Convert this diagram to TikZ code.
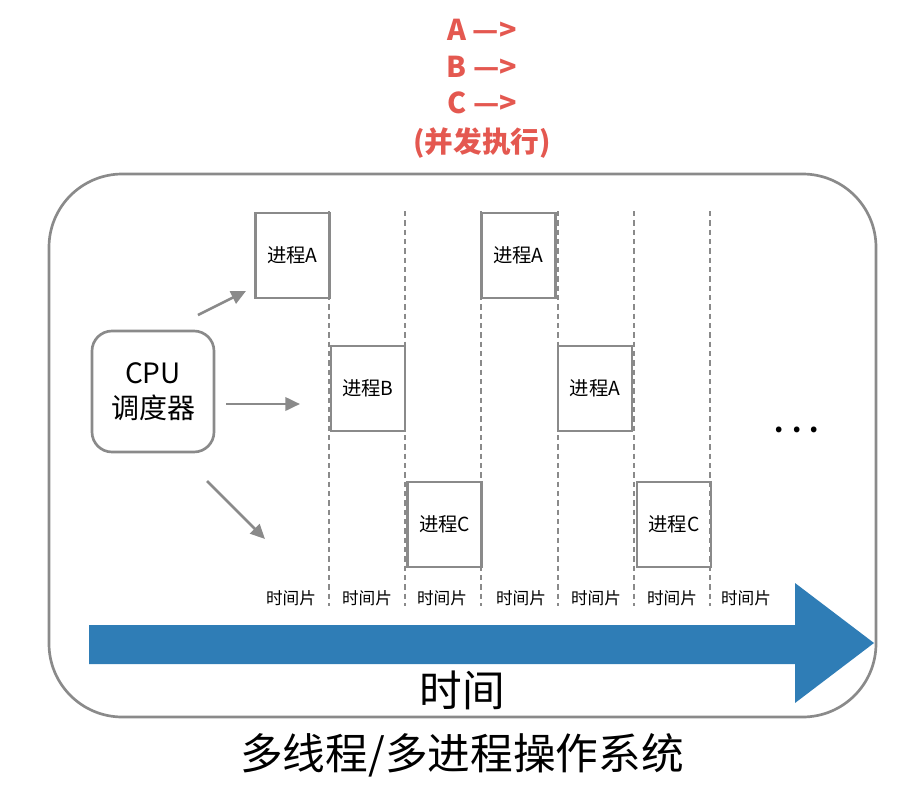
\documentclass[tikz,border=0pt]{standalone}
\usepackage{fontspec}
\setmainfont{Noto Sans CJK SC}
\usetikzlibrary{arrows.meta}
\definecolor{redtxt}{RGB}{228,88,80}
\definecolor{bluearr}{RGB}{47,125,182}
\definecolor{grayline}{RGB}{138,138,138}
\begin{document}
\begin{tikzpicture}[x=0.75pt,y=-0.75pt,
  procbox/.style={draw=grayline,line width=2pt,minimum width=55.5pt,minimum height=63.75pt,inner sep=0pt,font=\fontsize{14.5}{17}\selectfont},
  cpubox/.style={draw=grayline,line width=2pt,rounded corners=15pt,minimum width=91.5pt,minimum height=90.75pt,inner sep=0pt,align=center,font=\fontsize{21}{26}\selectfont},
  slicelbl/.style={font=\fontsize{12.5}{14}\selectfont,inner sep=1pt},
  redlbl/.style={text=redtxt,font=\bfseries\fontsize{21.5}{24}\selectfont},
  sepline/.style={draw=grayline,line width=1.8pt,dash pattern=on 4pt off 3pt},
  cpuarrow/.style={draw=grayline,line width=2pt,-{Triangle[length=11pt,width=10pt]}},
  bigtxt/.style={font=\fontsize{32}{36}\selectfont}
]
\useasboundingbox (0,0) rectangle (918,793);

% red title
\node[redlbl] (ta) at (482,30) {A —>};
\node[redlbl] (tb) at (482,67) {B —>};
\node[redlbl] (tc) at (482,103) {C —>};
\node[redlbl] (tp) at (482,143) {(并发执行)};

% outer box
\draw[grayline,line width=2pt,rounded corners=55pt] (49,174) rectangle (876,717);

% blue time arrow
\fill[bluearr] (89,625) -- (795,625) -- (795,583) -- (874,643) -- (795,703) -- (795,664) -- (89,664) -- cycle;

% dashed separators
\foreach \i/\x in {1/329,2/405,3/481,4/558,5/634,6/710}{
  \coordinate (s\i t) at (\x,211);
  \coordinate (s\i b) at (\x,606);
  \draw[sepline] (s\i t) -- (s\i b);
}

% process boxes
\node[procbox] (pa1) at (292.5,255.5) {进程A};
\node[procbox] (pb1) at (368,388.5) {进程B};
\node[procbox] (pc1) at (444.5,524.5) {进程C};
\node[procbox] (pa2) at (518.5,255.5) {进程A};
\node[procbox] (pa3) at (595,388.5) {进程A};
\node[procbox] (pc2) at (674,524.5) {进程C};

% CPU
\node[cpubox] (cpu) at (153,391.5) {CPU\\调度器};

% arrows
\coordinate (a1s) at (198,315); \coordinate (a1e) at (246,291);
\coordinate (a2s) at (226,404); \coordinate (a2e) at (300,404);
\coordinate (a3s) at (207,481); \coordinate (a3e) at (265,539);
\draw[cpuarrow] (a1s) -- (a1e);
\draw[cpuarrow] (a2s) -- (a2e);
\draw[cpuarrow] (a3s) -- (a3e);

% time slice labels
\foreach \i/\x in {1/291,2/367,3/442,4/521,5/596,6/672,7/746}{
  \node[slicelbl,fill=white] (ts\i) at (\x,598) {时间片};
}

% dots
\node[font=\bfseries\fontsize{20}{24}\selectfont] (dots) at (797,430) {. . .};

% bottom labels
\node[bigtxt] (time) at (462,690) {时间};
\node[bigtxt] (os) at (462,755) {多线程/多进程操作系统};
\end{tikzpicture}
\end{document}
